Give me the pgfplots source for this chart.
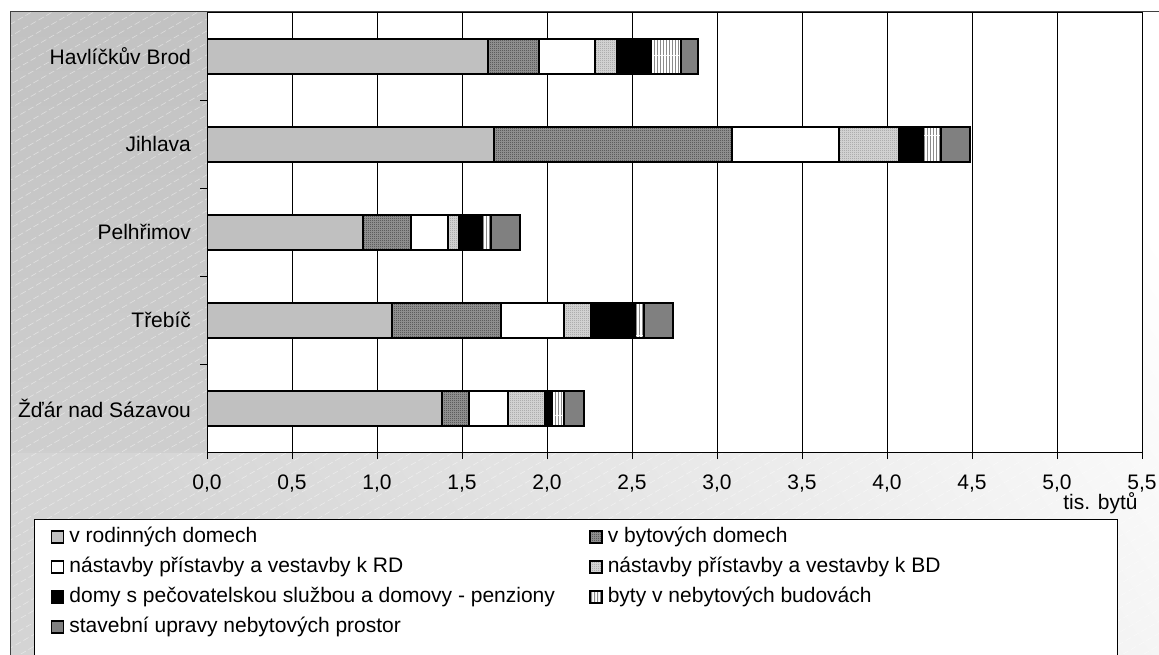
\documentclass[border=0pt]{standalone}
\usepackage{pgfplots}
\pgfplotsset{compat=1.18}
\usepackage{pgfplotstable}
\usepackage{fontspec}
\setmainfont{Liberation Sans}
\usetikzlibrary{patterns}

\definecolor{cRD}{HTML}{C0C0C0}
\definecolor{cBDbase}{HTML}{9A9A9A}
\definecolor{cBDpat}{HTML}{3C3C3C}
\definecolor{cNBbase}{HTML}{DADADA}
\definecolor{cNBpat}{HTML}{959595}
\definecolor{cStr}{HTML}{8A8A8A}
\definecolor{cUp}{HTML}{808080}

\pgfdeclarepatternformonly{fdots}{\pgfqpoint{0pt}{0pt}}{\pgfqpoint{1pt}{1pt}}{\pgfqpoint{1pt}{1pt}}{%
  \pgfpathrectangle{\pgfqpoint{0pt}{0pt}}{\pgfqpoint{0.5pt}{0.5pt}}%
  \pgfpathrectangle{\pgfqpoint{0.5pt}{0.5pt}}{\pgfqpoint{0.5pt}{0.5pt}}%
  \pgfusepath{fill}}
\pgfdeclarepatternformonly{vstripes}{\pgfqpoint{0pt}{0pt}}{\pgfqpoint{1.6pt}{20pt}}{\pgfqpoint{1.6pt}{20pt}}{%
  \pgfpathrectangle{\pgfqpoint{0pt}{0pt}}{\pgfqpoint{0.6pt}{20pt}}\pgfusepath{fill}}

\pgfplotstableread{
y a b c d e f g
0 1.38 0.16 0.23 0.22 0.04 0.07 0.12
1 1.09 0.64 0.37 0.16 0.26 0.05 0.17
2 0.92 0.28 0.22 0.06 0.14 0.05 0.17
3 1.69 1.40 0.63 0.35 0.14 0.11 0.17
4 1.65 0.30 0.33 0.13 0.20 0.18 0.10
}\data

\newcommand{\lf}{\fontsize{10.5}{12.6}\selectfont}

\begin{document}
\begin{tikzpicture}[x=1pt,y=1pt]
\useasboundingbox (0,0) rectangle (579.5,327);
\begin{scope}
  \clip (0,0) rectangle (579.5,327);
  \fill[white] (0,0) rectangle (579.5,327);
  \shade[top color=white, bottom color=black!17, shading angle=-55] (5,-20) rectangle (620,321);
  \shade[top color=black!24, bottom color=black!19] (5,101) rectangle (103.5,321);
  \clip (5,-5) rectangle (600,321);
  \foreach \i in {-60,...,60}
    \draw[white, opacity=0.45, line width=0.3pt, dash pattern=on 3pt off 1.5pt] (\i*10.4,0) -- ++(600,346);
\end{scope}
\draw[black!75, line width=0.5pt] (5,-5) -- (5,321) -- (600,321);
% legend box
\fill[white] (17,-10) rectangle (558.5,67.5);
\draw[black, line width=0.5pt] (17,-10) -- (17,67.5) -- (558.5,67.5) -- (558.5,-10);

\begin{axis}[
  at={(103.5pt,101pt)}, anchor=south west,
  scale only axis, width=467.5pt, height=220pt,
  xbar stacked, bar width=17.5pt,
  xmin=0, xmax=5.5, ymin=-0.5, ymax=4.5,
  xtick={0,0.5,...,5.5},
  ytick={0,1,2,3,4},
  yticklabels={Žďár nad Sázavou, Třebíč, Pelhřimov, Jihlava, Havlíčkův Brod},
  ytick style={draw=none},
  extra y ticks={0.5,1.5,2.5,3.5},
  extra y tick labels={},
  extra y tick style={ytick style={draw=black, line width=0.5pt}, grid=none},
  xtick pos=bottom, ytick pos=left,
  tick align=outside, major tick length=3.5pt,
  x tick style={black, line width=0.5pt},
  xmajorgrids, grid style={black, line width=0.5pt},
  axis line style={black, line width=0.5pt},
  axis background/.style={fill=white},
  tick label style={font=\lf},
  /pgf/number format/assume math mode=true,
  xticklabel style={/pgf/number format/.cd, fixed, fixed zerofill, precision=1, use comma, /tikz/.cd, yshift=-4.5pt},
  yticklabel style={xshift=-1pt},
  legend cell align=left,
  legend columns=2,
  legend style={at={(axis description cs:-0.18503,-0.152273)}, anchor=north west,
    draw=none, fill=none, font=\lf, inner xsep=8.5pt, inner ysep=1.5pt, outer sep=0pt,
    nodes={inner sep=0pt, text height=10.25pt, text depth=4.75pt},
    /tikz/every odd column/.append style={column sep=2.5pt},
    /tikz/every even column/.append style={column sep=0pt}},
  legend image code/.code={\draw[#1, line width=0.7pt] (0pt,-3pt) rectangle (6pt,3pt);},
  every axis plot/.append style={draw=black, line width=1pt},
]
\addplot[fill=cRD] table[x=a, y=y]{\data};
\addlegendentry{\makebox[260pt][l]{v rodinných domech}}
\addplot[fill=cBDbase, postaction={pattern=fdots, pattern color=cBDpat}] table[x=b, y=y]{\data};
\addlegendentry{\makebox[247pt][l]{v bytových domech}}
\addplot[fill=white] table[x=c, y=y]{\data};
\addlegendentry{\makebox[260pt][l]{nástavby přístavby a vestavby k RD}}
\addplot[fill=cNBbase, postaction={pattern=fdots, pattern color=cNBpat}] table[x=d, y=y]{\data};
\addlegendentry{\makebox[247pt][l]{nástavby přístavby a vestavby k BD}}
\addplot[fill=black] table[x=e, y=y]{\data};
\addlegendentry{\makebox[260pt][l]{domy s pečovatelskou službou a domovy - penziony}}
\addplot[fill=white, postaction={pattern=vstripes, pattern color=cStr}] table[x=f, y=y]{\data};
\addlegendentry{\makebox[247pt][l]{byty v nebytových budovách}}
\addplot[fill=cUp] table[x=g, y=y]{\data};
\addlegendentry{\makebox[260pt][l]{stavební upravy nebytových prostor}}
\end{axis}
\node[anchor=base east, font=\lf, inner sep=0pt] at (569,72.5) {tis. bytů};
\end{tikzpicture}
\end{document}
